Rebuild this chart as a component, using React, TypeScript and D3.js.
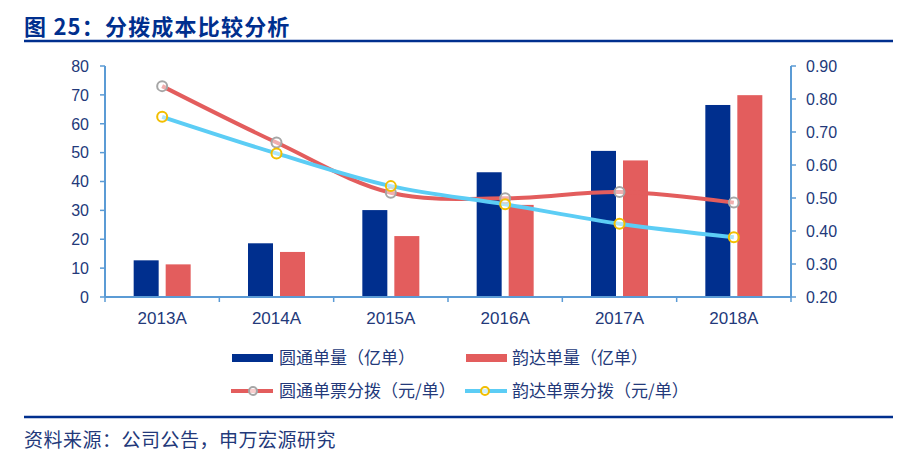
import React from "react";
import * as d3 from "d3";

const categories = ["2013A", "2014A", "2015A", "2016A", "2017A", "2018A"];
const ytoVolume = [12.7, 18.6, 30.1, 43.2, 50.6, 66.5];
const ydVolume = [11.3, 15.6, 21.1, 31.9, 47.3, 69.9];
const ytoCost = [0.839, 0.668, 0.516, 0.499, 0.518, 0.486];
const ydCost = [0.746, 0.635, 0.536, 0.481, 0.422, 0.381];
const leftTicks = [0, 10, 20, 30, 40, 50, 60, 70, 80];
const rightTicks = [0.2, 0.3, 0.4, 0.5, 0.6, 0.7, 0.8, 0.9];
const seriesNames = ["圆通单量（亿单）", "韵达单量（亿单）", "圆通单票分拨（元/单）", "韵达单票分拨（元/单）"];
const title = "图 25：分拨成本比较分析";
const source = "资料来源：公司公告，申万宏源研究";

const W = 919, H = 462;
const NAVY = "#002F8E";
const RED = "#E35D5D";
const CYAN = "#5CCDF5";
const GRAY = "#A6A6A6";
const YELLOW = "#F2BE00";
const AXIS = "#5B9BD5";
const TEXT = "#23397A";
const LATIN = "'Liberation Sans', Arial, sans-serif";
const CJK = "'Noto Sans CJK SC', 'Noto Sans', sans-serif";

export default function App() {
  const left = 105, right = 791, top = 66, bottom = 297;
  const x = d3.scaleBand().domain(categories).range([left, right]);
  const yL = d3.scaleLinear().domain([0, 80]).range([bottom, top]);
  const yR = d3.scaleLinear().domain([0.2, 0.9]).range([bottom, top]);
  const barW = 25, gap = 7;
  const cx = (c: string) => (x(c) as number) + x.bandwidth() / 2;
  const line = (vals: number[]) =>
    d3.line<number>().x((_, i) => cx(categories[i])).y((v) => yR(v)).curve(d3.curveCatmullRom.alpha(0.5))(vals) as string;

  return (
    <svg width={W} height={H} style={{ position: "absolute", left: 0, top: 0, background: "#fff" }}>
      <rect width={W} height={H} fill="#fff" />
      {/* title */}
      <text x={24} y={35} fontFamily={CJK} fontWeight={700} fontSize={22} letterSpacing={1.2} fill={NAVY}>{title}</text>
      <line x1={24} x2={893} y1={41} y2={41} stroke={NAVY} strokeWidth={2.5} />
      {/* left axis */}
      <line x1={left} x2={left} y1={top} y2={bottom} stroke={AXIS} strokeWidth={2} />
      {leftTicks.map((t) => (
        <g key={"l" + t}>
          <line x1={left - 5} x2={left} y1={yL(t)} y2={yL(t)} stroke={AXIS} strokeWidth={1.5} />
          <text x={89} y={yL(t)} dy="0.36em" textAnchor="end" fontFamily={LATIN} fontSize={16} fill={TEXT}>{t}</text>
        </g>
      ))}
      {/* right axis */}
      <line x1={right} x2={right} y1={top} y2={bottom} stroke={AXIS} strokeWidth={2} />
      {rightTicks.map((t) => (
        <g key={"r" + t}>
          <line x1={right} x2={right + 5} y1={yR(t)} y2={yR(t)} stroke={AXIS} strokeWidth={1.5} />
          <text x={806} y={yR(t)} dy="0.36em" textAnchor="start" fontFamily={LATIN} fontSize={16} fill={TEXT}>{t.toFixed(2)}</text>
        </g>
      ))}
      {/* bars */}
      {categories.map((c, i) => {
        const c0 = cx(c);
        return (
          <g key={"b" + c}>
            <rect x={c0 - gap / 2 - barW} y={yL(ytoVolume[i])} width={barW} height={bottom - yL(ytoVolume[i])} fill={NAVY} />
            <rect x={c0 + gap / 2} y={yL(ydVolume[i])} width={barW} height={bottom - yL(ydVolume[i])} fill={RED} />
          </g>
        );
      })}
      {/* x axis */}
      <line x1={left} x2={right} y1={bottom} y2={bottom} stroke={AXIS} strokeWidth={2} />
      {categories.map((c) => (
        <g key={"x" + c}>
          <line x1={x(c) as number} x2={x(c) as number} y1={bottom} y2={bottom + 5} stroke={AXIS} strokeWidth={1.5} />
          <text x={cx(c)} y={324} textAnchor="middle" fontFamily={LATIN} fontSize={17} fill={TEXT}>{c}</text>
        </g>
      ))}
      <line x1={right} x2={right} y1={bottom} y2={bottom + 5} stroke={AXIS} strokeWidth={1.5} />
      {/* lines */}
      <path d={line(ytoCost)} fill="none" stroke={RED} strokeWidth={4} />
      <path d={line(ydCost)} fill="none" stroke={CYAN} strokeWidth={4} />
      {ytoCost.map((v, i) => (
        <circle key={"m1" + i} cx={cx(categories[i])} cy={yR(v)} r={5} fill="#fff" fillOpacity={0.5} stroke={GRAY} strokeWidth={2} />
      ))}
      {ydCost.map((v, i) => (
        <circle key={"m2" + i} cx={cx(categories[i])} cy={yR(v)} r={5} fill="#fff" fillOpacity={0.5} stroke={YELLOW} strokeWidth={2} />
      ))}
      {/* legend */}
      <rect x={232} y={354} width={41} height={8} fill={NAVY} />
      <text x={279} y={358} dy="0.36em" fontFamily={CJK} fontSize={17} fill={TEXT}>{seriesNames[0]}</text>
      <rect x={466} y={354} width={41} height={8} fill={RED} />
      <text x={512} y={358} dy="0.36em" fontFamily={CJK} fontSize={17} fill={TEXT}>{seriesNames[1]}</text>
      <line x1={231} x2={273} y1={391} y2={391} stroke={RED} strokeWidth={4} />
      <circle cx={253} cy={391} r={4} fill="#fff" fillOpacity={0.7} stroke={GRAY} strokeWidth={2} />
      <text x={279} y={391} dy="0.36em" fontFamily={CJK} fontSize={17} fill={TEXT}>{seriesNames[2]}</text>
      <line x1={465} x2={507} y1={391} y2={391} stroke={CYAN} strokeWidth={4} />
      <circle cx={485} cy={391} r={4} fill="#fff" fillOpacity={0.7} stroke={YELLOW} strokeWidth={2} />
      <text x={512} y={391} dy="0.36em" fontFamily={CJK} fontSize={17} fill={TEXT}>{seriesNames[3]}</text>
      {/* footer */}
      <line x1={24} x2={893} y1={417} y2={417} stroke={NAVY} strokeWidth={2.5} />
      <text x={24} y={447} fontFamily={CJK} fontSize={19} letterSpacing={0.5} fill={TEXT}>{source}</text>
    </svg>
  );
}
